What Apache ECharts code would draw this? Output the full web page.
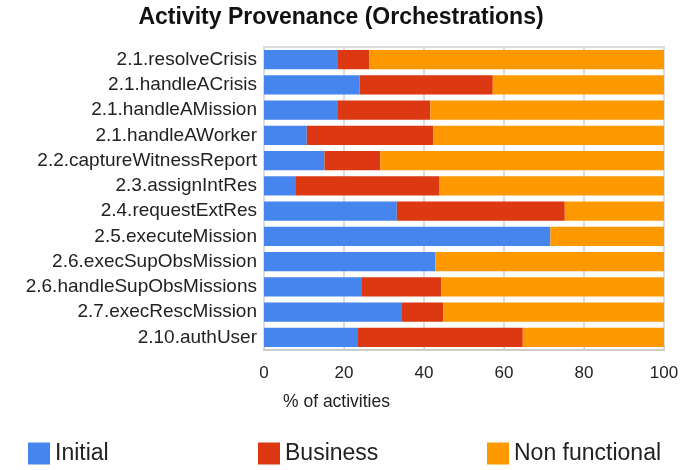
<!DOCTYPE html>
<html>
<head>
<meta charset="utf-8">
<script src="https://cdn.jsdelivr.net/npm/echarts@6/dist/echarts.min.js"></script>
<style>
  html, body { margin: 0; padding: 0; background: #fff; }
  #chart { width: 682px; height: 470px; }
</style>
</head>
<body>
<div id="chart"></div>
<script>
// activities, top to bottom
const categories = [
  "2.1.resolveCrisis",
  "2.1.handleACrisis",
  "2.1.handleAMission",
  "2.1.handleAWorker",
  "2.2.captureWitnessReport",
  "2.3.assignIntRes",
  "2.4.requestExtRes",
  "2.5.executeMission",
  "2.6.execSupObsMission",
  "2.6.handleSupObsMissions",
  "2.7.execRescMission",
  "2.10.authUser"
];
const initial = [18.3, 23.9, 18.3, 10.7, 15.1, 7.8, 33.2, 71.6, 42.8, 24.3, 34.3, 23.5];
const business = [8.0, 33.3, 23.3, 31.6, 14.0, 36.1, 42.0, 0, 0, 20.0, 10.5, 41.2];
const nonFunctional = [73.7, 42.8, 58.4, 57.7, 70.9, 56.1, 24.8, 28.4, 57.2, 55.7, 55.2, 35.3];
const xTicks = [0, 20, 40, 60, 80, 100];

const font = "Liberation Sans, Arial, sans-serif";
const chart = echarts.init(document.getElementById("chart"));

function legendFor(name, left) {
  return {
    data: [name],
    left: left,
    top: 442,
    padding: 0,
    itemWidth: 22,
    itemHeight: 22,
    itemGap: 0,
    icon: "rect",
    textStyle: { fontFamily: font, fontSize: 23, color: "#222" }
  };
}

const option = {
  animation: false,
  backgroundColor: "#fff",
  color: ["#4684ee", "#dc3912", "#ff9900"],
  title: {
    text: "Activity Provenance (Orchestrations)",
    left: "center",
    top: 1,
    textStyle: { fontFamily: font, fontSize: 23, fontWeight: "bold", color: "#111" }
  },
  legend: [
    legendFor("Initial", 28),
    legendFor("Business", 258),
    legendFor("Non functional", 487)
  ],
  grid: { left: 264, right: 18, top: 47, bottom: 120, containLabel: false },
  xAxis: {
    type: "value",
    min: xTicks[0],
    max: xTicks[xTicks.length - 1],
    interval: 20,
    axisLine: { show: true, lineStyle: { color: "#ccc", width: 2 } },
    axisTick: { show: true, length: 5, inside: true, lineStyle: { color: "#ccc" } },
    axisLabel: { margin: 15, fontFamily: font, fontSize: 17, color: "#222" },
    splitLine: { show: true, lineStyle: { color: "#ddd", width: 2 } }
  },
  yAxis: {
    type: "category",
    data: categories,
    inverse: true,
    axisLine: { show: true, lineStyle: { color: "#ddd" } },
    axisTick: { show: false },
    axisLabel: { interval: 0, margin: 7, fontFamily: font, fontSize: 19, color: "#222" },
    splitLine: { show: false }
  },
  graphic: [
    {
      type: "rect",
      shape: { x: 264, y: 47, width: 400, height: 303 },
      style: { fill: "none", stroke: "#ddd", lineWidth: 2 },
      silent: true,
      z: -1
    },
    {
      type: "text",
      left: 283,
      top: 393,
      style: { text: "% of activities", fontFamily: font, fontSize: 17.5, fill: "#222" }
    }
  ],
  series: [
    { name: "Initial", type: "bar", stack: "total", data: initial, barCategoryGap: "24%" },
    { name: "Business", type: "bar", stack: "total", data: business },
    { name: "Non functional", type: "bar", stack: "total", data: nonFunctional }
  ]
};

chart.setOption(option);
</script>
</body>
</html>
